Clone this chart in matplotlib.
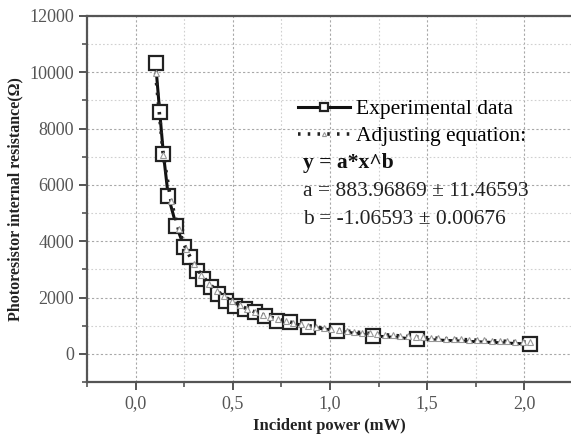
import numpy as np
import matplotlib.pyplot as plt
from matplotlib.ticker import MultipleLocator, FuncFormatter

# experimental points
power_mw = [0.103, 0.124, 0.143, 0.168, 0.21, 0.251, 0.278, 0.316, 0.347, 0.39,
            0.424, 0.467, 0.51, 0.562, 0.613, 0.665, 0.725, 0.794, 0.888, 1.035,
            1.22, 1.45, 2.03]
resistance = [10317, 8594, 7110, 5603, 4533, 3786, 3454, 2956, 2660, 2362,
              2125, 1887, 1709, 1600, 1471, 1353, 1175, 1115, 961, 819,
              641, 522, 345]

# fit parameters printed on the chart
fit_a = 883.96869
fit_b = -1.06593
fit_x = np.linspace(0.103, 2.03, 50)
fit_y = fit_a * fit_x ** fit_b

plt.rcParams['font.family'] = ['Liberation Serif', 'DejaVu Serif']

fig = plt.figure(figsize=(5.71, 4.43), dpi=100)
ax = fig.add_axes([87/571, 61/443, 1 - 87/571, 366/443])

ax.plot(power_mw, resistance, color='#111111', lw=2.2, marker='s', ms=9.5,
        mfc='white', mec='#222222', mew=1.6, label='Experimental data', zorder=3)
ax.plot(fit_x, fit_y, color='#222222', lw=2.6, ls=(0, (0.7, 2.0)), marker='^',
        ms=4.5, mfc='white', mec='#999999', mew=0.8,
        label='Adjusting equation:', zorder=4)

ax.set_xlim(-0.25, 2.24)
ax.set_ylim(-1000, 12000)
ax.xaxis.set_major_locator(MultipleLocator(0.5))
ax.xaxis.set_minor_locator(MultipleLocator(0.25))
ax.yaxis.set_major_locator(MultipleLocator(2000))
ax.yaxis.set_minor_locator(MultipleLocator(1000))
ax.xaxis.set_major_formatter(FuncFormatter(lambda v, p: f"{v:.1f}".replace('.', ',')))

ax.grid(which='major', color='#a8a8a8', ls=(0, (2, 2)), lw=0.8)
ax.grid(which='minor', color='#d0d0d0', ls=(0, (1.5, 2)), lw=0.8)
ax.set_axisbelow(True)

for s in ['left', 'bottom', 'top']:
    ax.spines[s].set_color('#555555')
    ax.spines[s].set_linewidth(1.6)
ax.spines['right'].set_visible(False)
ax.tick_params(which='major', direction='out', length=6, width=1.4,
               color='#555555', labelsize=13, labelcolor='#555555')
ax.tick_params(which='minor', direction='out', length=3.5, width=1.2, color='#555555')
ax.tick_params(axis='y', right=False)

ax.set_xlabel('Incident power (mW)', fontsize=12, fontweight='bold', color='#222222')
ax.set_ylabel('Photoresistor internal resistance(Ω)', fontsize=11.5,
              fontweight='bold', color='#222222')

ax.legend(loc='upper left', bbox_to_anchor=(298/571, 1 - 99/443),
          bbox_transform=fig.transFigure, frameon=False, fontsize=15.5,
          handlelength=2.4, handletextpad=0.3, labelspacing=0.33,
          borderaxespad=0, borderpad=0, markerscale=0.65)

fig.text(303/571, 1 - 163/443, 'y = a*x^b', fontsize=15.5, fontweight='bold',
         va='center', color='#111111')
fig.text(303/571, 1 - 191/443, 'a = 883.96869 ± 11.46593', fontsize=15.5,
         va='center', color='#222222')
fig.text(303/571, 1 - 219/443, 'b = -1.06593 ± 0.00676', fontsize=15.5,
         va='center', color='#222222')

fig.savefig('out.png', dpi=100)
